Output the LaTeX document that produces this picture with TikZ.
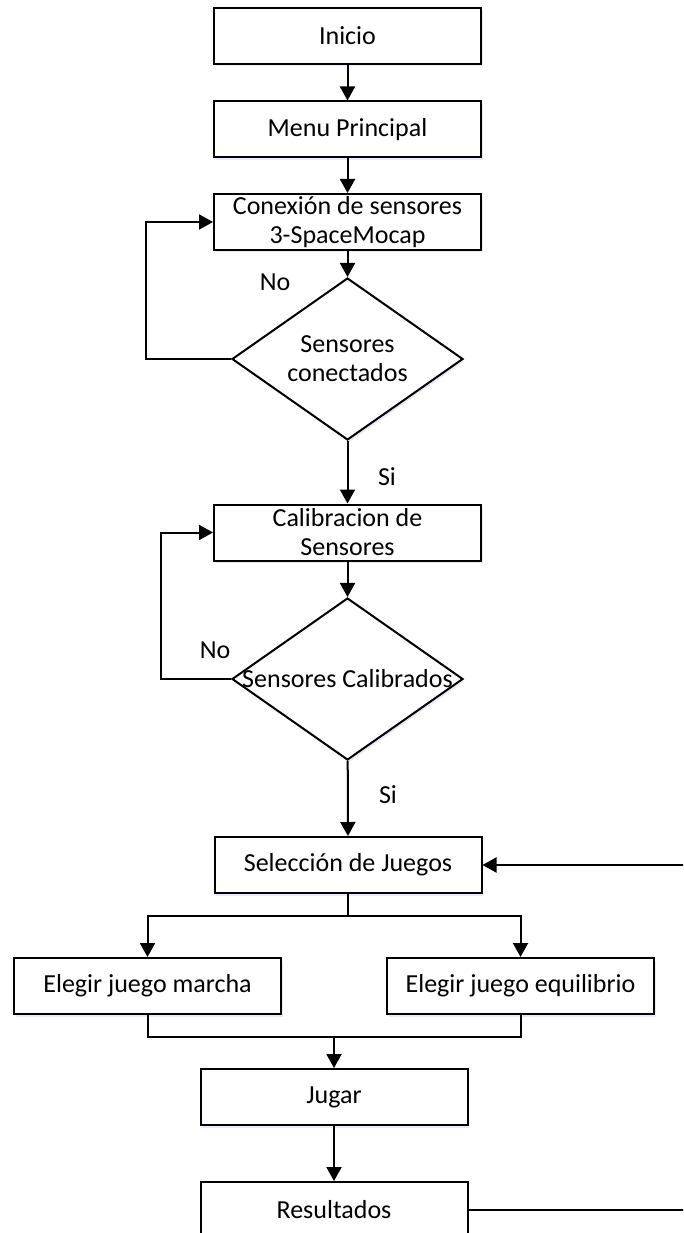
\documentclass[tikz,border=0pt]{standalone}
\usepackage{fontspec}
\setmainfont{Carlito}
\usetikzlibrary{arrows.meta,positioning,shapes.geometric,shadows}
\tikzset{
  soft/.style={drop shadow={shadow xshift=1.5pt, shadow yshift=-2.5pt, fill=blue!30, opacity=0.3}},
  box/.style={draw, line width=2pt, minimum width=267pt, minimum height=56pt, inner sep=2pt, align=center, fill=white, soft},
  dec/.style={draw, diamond, line width=2pt, minimum width=231pt, minimum height=162pt, inner sep=0pt, fill=white, soft},
  flow/.style={line width=2pt, -{Triangle[length=14pt,width=15pt]}},
  link/.style={line width=2pt}
}

\begin{document}
\begin{tikzpicture}[x=1pt, y=-1pt, every node/.style={font=\fontsize{26}{29}\selectfont}]
\useasboundingbox (0,0) rectangle (683,1233);
\clip (0,0) rectangle (683,1233);
% nodes
\node[box] (ini) at (347.5,36) {Inicio};
\node[box] (menu) at (347.5,129.5) {Menu Principal};
\node[box] (con) at (347.5,222) {Conexión de sensores\\3-SpaceMocap};
\node[dec] (dcon) at (347.5,359) {};
\node[align=center] (tcon) at (dcon) {Sensores\\conectados};
\node[box] (cal) at (347.5,532.5) {Calibracion de\\Sensores};
\node[dec] (dcal) at (347.5,679) {};
\node (tcal) at (dcal) {Sensores Calibrados};
\node[box] (sel) at (348,865) {Selección de Juegos};
\node[box] (mar) at (147.5,986) {Elegir juego marcha};
\node[box] (equ) at (520.5,986) {Elegir juego equilibrio};
\node[box] (jug) at (334,1097) {Jugar};
\node[box] (res) at (334,1210) {Resultados};
% labels
\node (no1) at (275,282) {No};
\node (no2) at (215,650) {No};
\node (si1) at (387,477) {Si};
\node (si2) at (388,795) {Si};
% connectors
\draw[flow] (ini) -- (menu);
\draw[flow] (menu) -- (con);
\draw[flow] (con) -- (dcon);
\draw[flow] (dcon) -- (cal);
\draw[flow] (dcon.west) -- ++(-85,0) |- (con.west);
\draw[flow] (cal) -- (dcal);
\draw[flow] (dcal.west) -- ++(-70,0) |- (cal.west);
\draw[flow] (dcal) -- (sel);
\coordinate (split) at (348,916);
\draw[link] (sel.south) -- (split);
\draw[flow] (split) -| (mar.north);
\draw[flow] (split) -| (equ.north);
\coordinate (join) at (334,1037);
\draw[link] (mar.south) |- (join) -| (equ.south);
\draw[flow] (join) -- (jug.north);
\draw[flow] (jug) -- (res);
\coordinate (back) at (700,1210);
\draw[flow] (res.east) -- (back) |- (sel.east);
\end{tikzpicture}
\end{document}
